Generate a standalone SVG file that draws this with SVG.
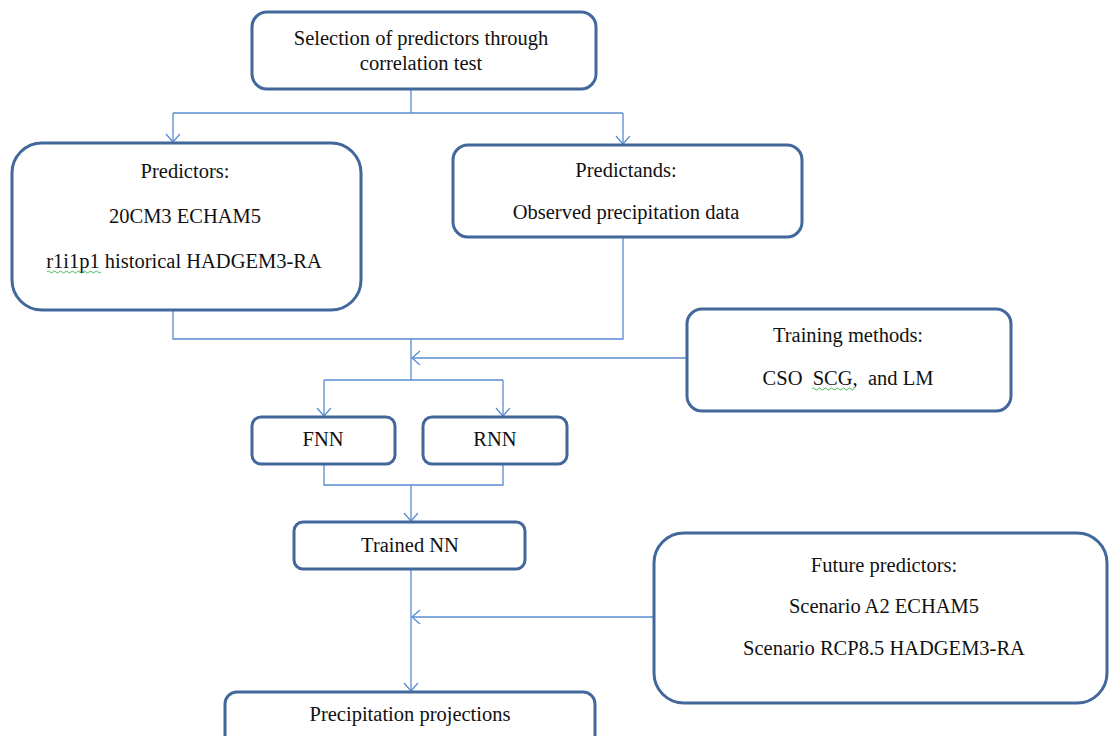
<svg xmlns="http://www.w3.org/2000/svg" width="1109" height="736" viewBox="0 0 1109 736">
<style>
.box{fill:#ffffff;stroke:#41679b;stroke-width:3}
.t{font-family:"Liberation Serif","Times New Roman",serif;font-size:20.5px;fill:#111;text-anchor:middle}
.c{fill:none;stroke:#5a8ccf;stroke-width:1.3}
.sq{fill:none;stroke:#3cb04a;stroke-width:0.9}
</style>
<defs>
<marker id="ah" markerWidth="16" markerHeight="16" refX="9" refY="7" orient="auto" markerUnits="userSpaceOnUse">
<path d="M1,0 L9,7 L1,14" fill="none" stroke="#5a8ccf" stroke-width="1.3"/>
</marker>
</defs>
<rect width="1109" height="736" fill="#ffffff"/>
<g id="connectors">
<path class="c" d="M411,89 V113"/>
<path class="c" d="M173,113 H623"/>
<path class="c" d="M173,113 V142" marker-end="url(#ah)"/>
<path class="c" d="M623,113 V144" marker-end="url(#ah)"/>
<path class="c" d="M173,311 V339 H623 V237"/>
<path class="c" d="M411,339 V380"/>
<path class="c" d="M686,358 H412" marker-end="url(#ah)"/>
<path class="c" d="M324,380 H503"/>
<path class="c" d="M324,380 V416" marker-end="url(#ah)"/>
<path class="c" d="M503,380 V416" marker-end="url(#ah)"/>
<path class="c" d="M324,464 V485 H503 V464"/>
<path class="c" d="M411,485 V521" marker-end="url(#ah)"/>
<path class="c" d="M411,569 V691" marker-end="url(#ah)"/>
<path class="c" d="M653,617 H412" marker-end="url(#ah)"/>
</g>
<g id="n-selection">
<rect class="box" x="252" y="12" width="344" height="77" rx="15"/>
<text class="t" x="421" y="45">Selection of predictors through</text>
<text class="t" x="421" y="70">correlation test</text>
</g>
<g id="n-predictors">
<rect class="box" x="12" y="143" width="349" height="167" rx="30"/>
<text class="t" x="185" y="178">Predictors:</text>
<text class="t" x="185" y="223">20CM3 ECHAM5</text>
<text class="t" x="184" y="268">r1i1p1 historical HADGEM3-RA</text>
<path class="sq" d="M47,272 q1.5,-2 3,0 t3,0 t3,0 t3,0 t3,0 t3,0 t3,0 t3,0 t3,0 t3,0 t3,0 t3,0 t3,0 t3,0 t3,0 t3,0 t3,0 t3,0"/>
</g>
<g id="n-predictands">
<rect class="box" x="453" y="145" width="349" height="92" rx="15"/>
<text class="t" x="626" y="177">Predictands:</text>
<text class="t" x="626" y="219">Observed precipitation data</text>
</g>
<g id="n-training">
<rect class="box" x="687" y="309" width="324" height="102" rx="15"/>
<text class="t" x="848" y="342">Training methods:</text>
<text class="t" x="848" y="385" xml:space="preserve">CSO  SCG,  and LM</text>
<path class="sq" d="M812,389 q1.5,-2 3,0 t3,0 t3,0 t3,0 t3,0 t3,0 t3,0 t3,0 t3,0 t3,0 t3,0 t3,0 t3,0 t3,0"/>
</g>
<g id="n-fnn">
<rect class="box" x="252" y="417" width="143" height="47" rx="9"/>
<text class="t" x="323" y="446">FNN</text>
</g>
<g id="n-rnn">
<rect class="box" x="423" y="417" width="144" height="47" rx="9"/>
<text class="t" x="495" y="446">RNN</text>
</g>
<g id="n-trained">
<rect class="box" x="294" y="522" width="231" height="47" rx="9"/>
<text class="t" x="410" y="552">Trained NN</text>
</g>
<g id="n-future">
<rect class="box" x="654" y="533" width="453" height="170" rx="30"/>
<text class="t" x="884" y="572">Future predictors:</text>
<text class="t" x="884" y="613">Scenario A2 ECHAM5</text>
<text class="t" x="884" y="655">Scenario RCP8.5 HADGEM3-RA</text>
</g>
<g id="n-projections">
<rect class="box" x="225" y="692" width="370" height="60" rx="12"/>
<text class="t" x="410" y="721">Precipitation projections</text>
</g>
</svg>
